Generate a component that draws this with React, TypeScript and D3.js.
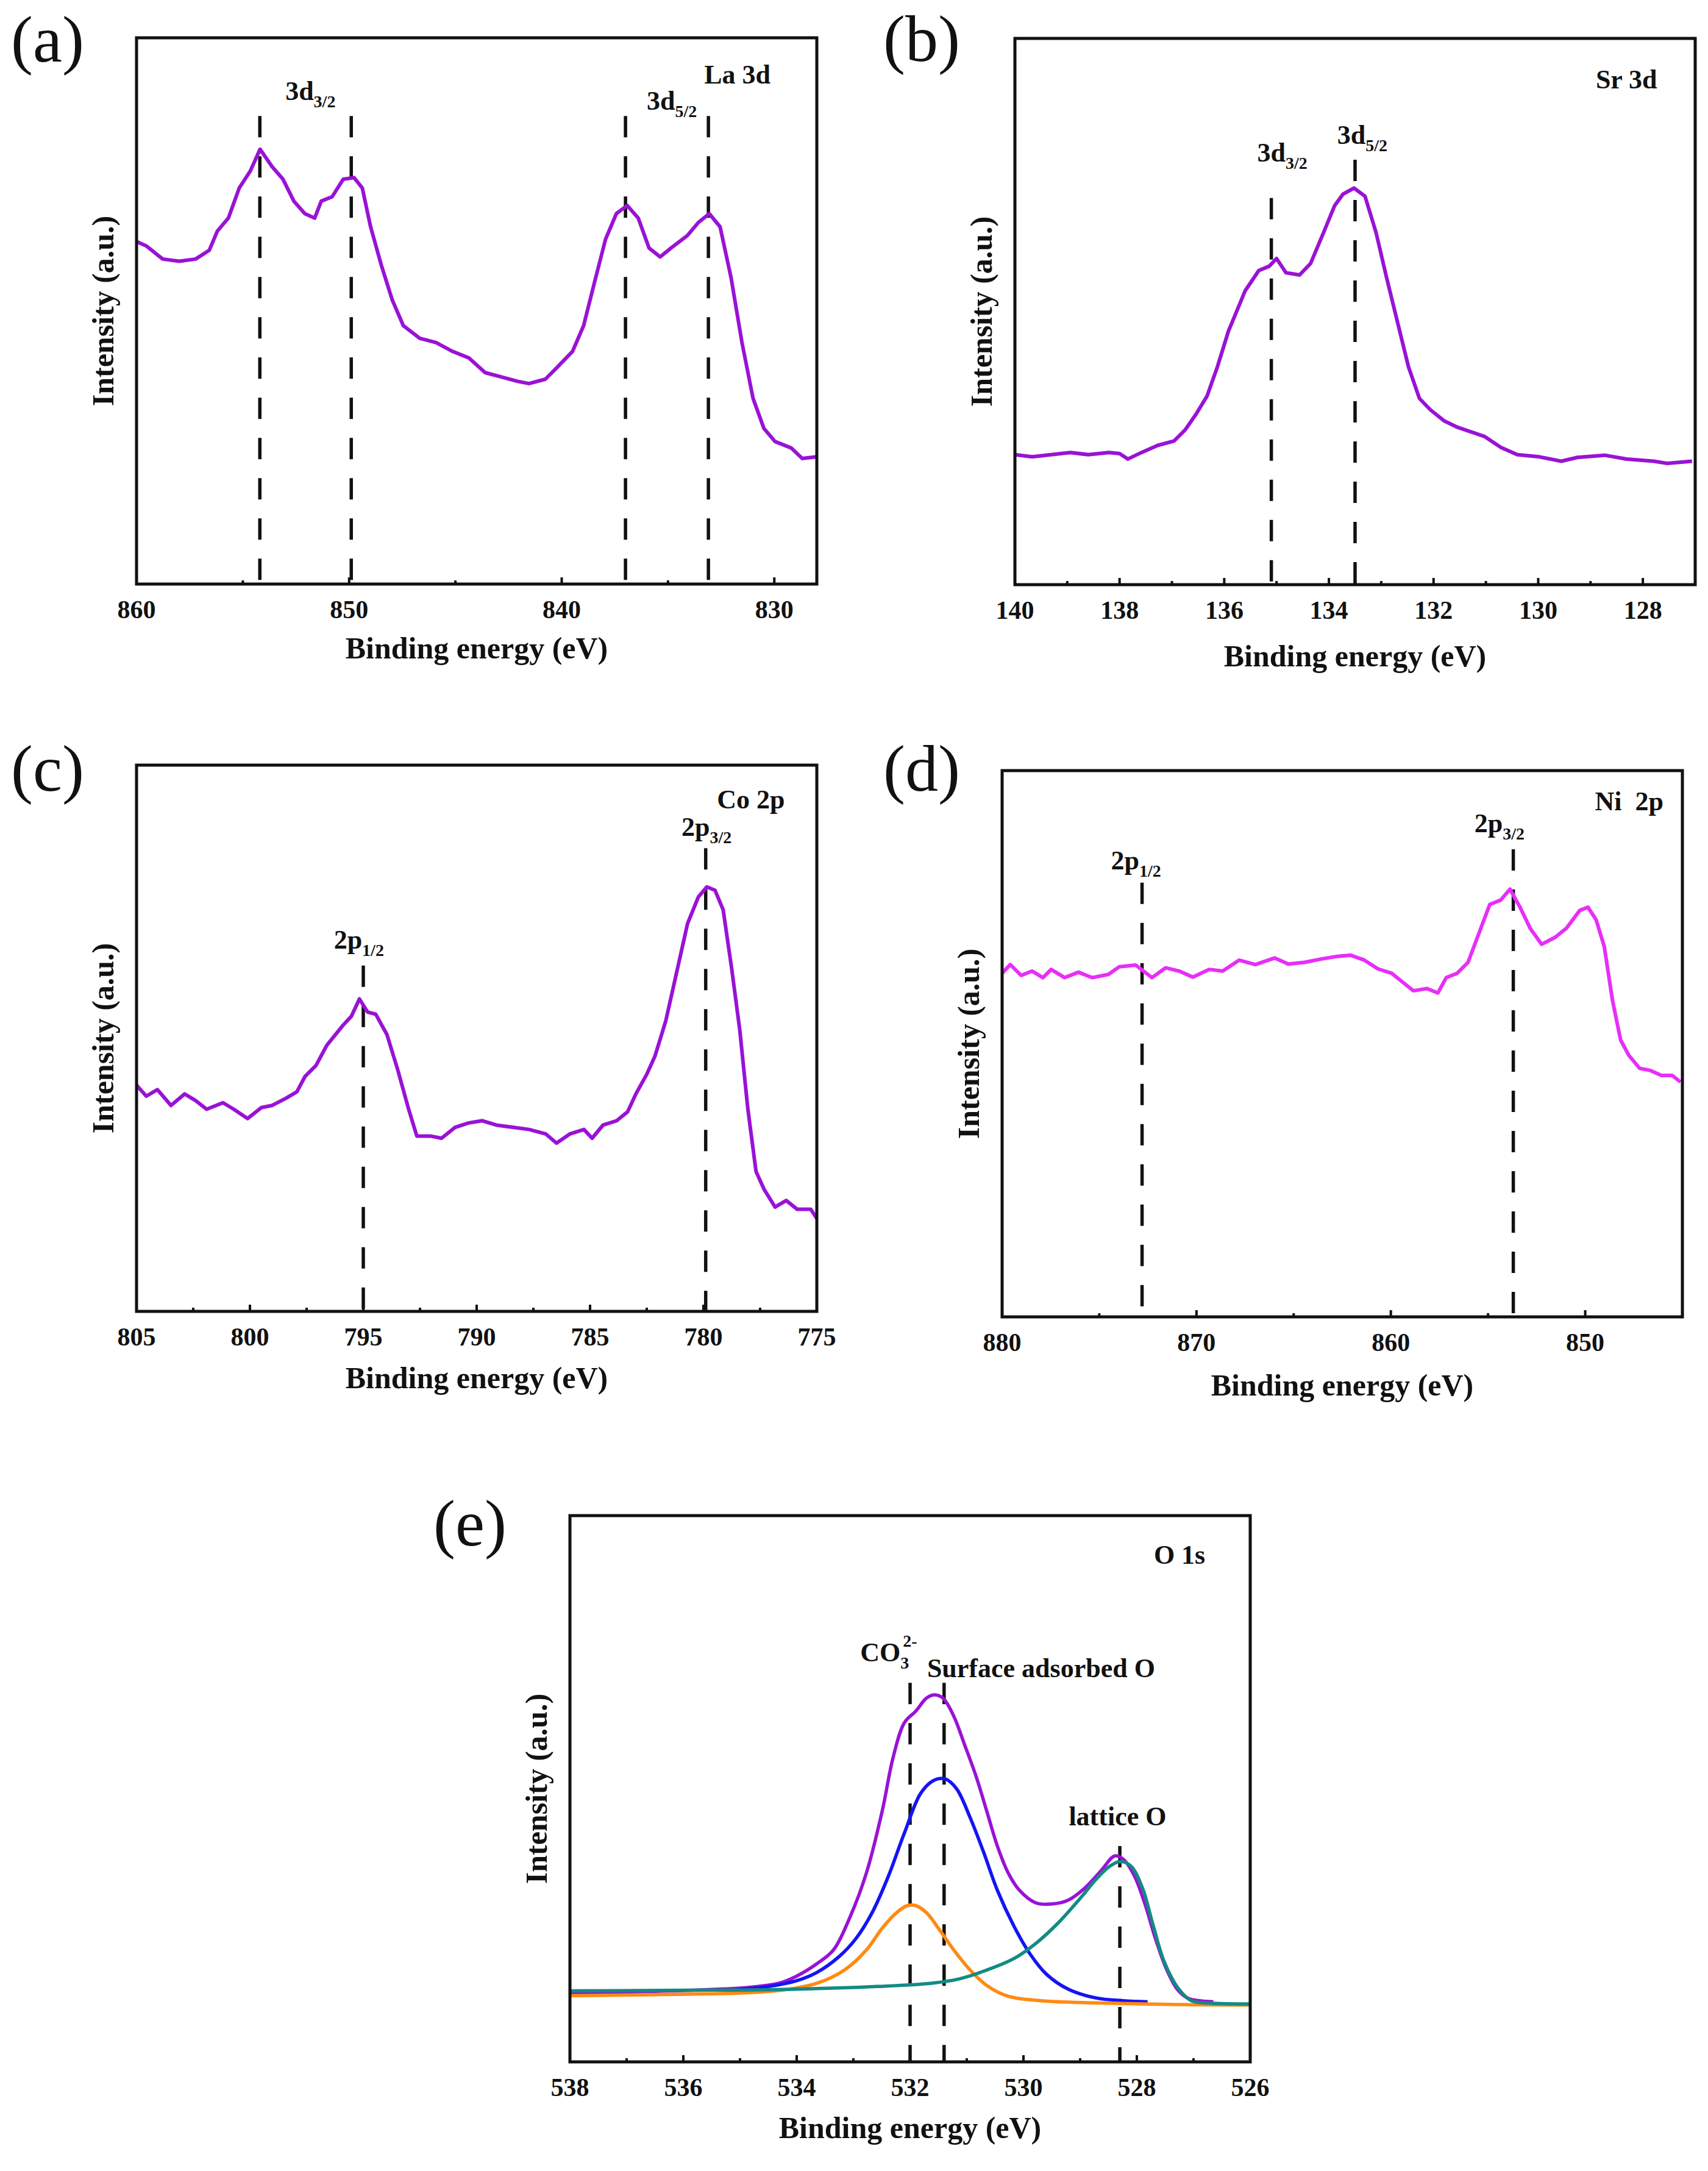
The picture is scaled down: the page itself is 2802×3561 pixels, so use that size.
import { useEffect } from 'react'
import * as d3 from 'd3'

// (a) La 3d
const la3dEnergy = [860, 859.54, 858.77, 857.99, 857.22, 856.58, 856.2, 855.68, 855.17, 854.65, 854.19, 853.62, 853.11, 852.6, 852.08, 851.62, 851.31, 850.8, 850.28, 849.77, 849.38, 848.99, 848.48, 847.97, 847.45, 846.68, 845.91, 845.14, 844.37, 843.6, 842.83, 842.06, 841.54, 840.77, 840.26, 839.49, 838.97, 838.46, 837.94, 837.43, 836.92, 836.4, 835.89, 835.37, 834.86, 834.09, 833.57, 833.06, 832.55, 832.03, 831.52, 831.0, 830.49, 829.97, 829.2, 828.69, 828.0]
const la3dIntensity = [62.7, 61.9, 59.5, 59.1, 59.5, 61.1, 64.6, 67.0, 72.5, 75.6, 79.6, 76.4, 74.1, 70.1, 67.8, 67.0, 70.1, 70.9, 74.1, 74.4, 72.5, 65.4, 58.3, 52.0, 47.3, 45.0, 44.2, 42.6, 41.4, 38.7, 37.9, 37.1, 36.7, 37.5, 39.5, 42.6, 47.3, 55.2, 63.1, 67.8, 69.3, 67.0, 61.5, 59.9, 61.5, 63.8, 66.2, 67.8, 65.4, 56.0, 44.2, 34.0, 28.5, 26.1, 24.9, 23.0, 23.3]
const la3dTicks = [860, 850, 840, 830]
const la3dMinor = [855, 845, 835]
const la3dPeaks = [854.2, 849.9, 837.0, 833.1]
const la3dPeakTops = [85.7, 85.7, 85.7, 85.7]

// (b) Sr 3d
const sr3dEnergy = [140, 139.67, 138.94, 138.6, 138.2, 138.0, 137.84, 137.58, 137.27, 136.96, 136.75, 136.54, 136.33, 136.13, 135.92, 135.6, 135.34, 135.14, 135.0, 134.82, 134.56, 134.35, 134.1, 133.89, 133.73, 133.52, 133.31, 133.1, 132.9, 132.69, 132.48, 132.27, 132.06, 131.8, 131.54, 131.02, 130.71, 130.4, 129.98, 129.56, 129.25, 128.73, 128.31, 127.79, 127.53, 127.06]
const sr3dIntensity = [23.8, 23.4, 24.2, 23.8, 24.2, 24.0, 23.0, 24.2, 25.5, 26.3, 28.3, 31.2, 34.5, 39.9, 46.4, 53.8, 57.5, 58.3, 59.7, 57.1, 56.7, 58.8, 64.5, 69.4, 71.5, 72.6, 71.1, 64.5, 56.3, 48.1, 39.9, 34.1, 32.0, 30.0, 28.8, 27.1, 25.1, 23.8, 23.4, 22.6, 23.3, 23.7, 23.0, 22.6, 22.2, 22.6]
const sr3dTicks = [140, 138, 136, 134, 132, 130, 128]
const sr3dMinor = [139, 137, 135, 133, 131, 129]
const sr3dPeaks = [135.1, 133.5]
const sr3dPeakTops = [70.8, 77.8]

// (c) Co 2p
const co2pEnergy = [805, 804.57, 804.08, 803.48, 802.88, 802.4, 801.91, 801.19, 800.71, 800.1, 799.5, 799.02, 798.42, 797.93, 797.57, 797.09, 796.61, 795.89, 795.53, 795.17, 794.81, 794.45, 793.96, 793.48, 793.0, 792.64, 792.04, 791.55, 790.95, 790.35, 789.75, 789.13, 788.41, 787.69, 786.96, 786.48, 785.88, 785.27, 784.91, 784.43, 783.83, 783.35, 782.98, 782.5, 782.14, 781.66, 781.18, 780.7, 780.22, 779.85, 779.49, 779.13, 778.76, 778.4, 778.04, 777.68, 777.32, 776.84, 776.35, 775.87, 775.27, 775.0]
const co2pIntensity = [41.4, 39.4, 40.6, 37.7, 39.8, 38.6, 37.0, 38.2, 37.0, 35.3, 37.3, 37.7, 39.0, 40.2, 43.0, 45.0, 48.7, 52.4, 54.0, 57.2, 54.8, 54.4, 50.7, 44.2, 37.0, 32.1, 32.1, 31.7, 33.7, 34.5, 34.9, 34.1, 33.7, 33.3, 32.5, 30.8, 32.5, 33.3, 31.7, 34.1, 34.9, 36.5, 39.8, 43.4, 46.7, 53.2, 62.1, 71.0, 75.9, 77.7, 77.1, 73.5, 62.9, 51.6, 37.0, 25.6, 22.3, 19.1, 20.3, 18.7, 18.7, 17.0]
const co2pTicks = [805, 800, 795, 790, 785, 780, 775]
const co2pMinor = [802.5, 797.5, 792.5, 787.5, 782.5, 777.5]
const co2pPeaks = [795.0, 779.9]
const co2pPeakTops = [63.3, 84.8]

// (d) Ni 2p
const ni2pEnergy = [880, 879.58, 879.02, 878.46, 877.9, 877.48, 876.78, 876.07, 875.37, 874.53, 873.97, 873.13, 872.29, 871.59, 870.89, 870.19, 869.35, 868.65, 867.81, 866.97, 865.98, 865.28, 864.44, 863.6, 862.76, 862.06, 861.36, 860.66, 859.96, 859.4, 858.84, 858.14, 857.58, 857.15, 856.59, 856.03, 855.47, 854.91, 854.35, 853.87, 853.37, 852.81, 852.24, 851.54, 850.98, 850.28, 849.86, 849.44, 849.02, 848.6, 848.18, 847.76, 847.2, 846.64, 846.08, 845.52, 845.1]
const ni2pIntensity = [62.9, 64.5, 62.5, 63.3, 62.1, 63.6, 62.1, 63.1, 62.1, 62.7, 64.1, 64.4, 62.1, 63.9, 63.3, 62.2, 63.6, 63.3, 65.3, 64.5, 65.7, 64.6, 64.9, 65.5, 66.0, 66.2, 65.3, 63.7, 62.9, 61.3, 59.7, 60.1, 59.3, 62.1, 62.9, 64.9, 70.2, 75.5, 76.3, 78.3, 75.1, 71.0, 68.2, 69.5, 71.1, 74.4, 75.0, 72.7, 67.8, 58.0, 50.7, 47.9, 45.5, 45.1, 44.2, 44.2, 43.0]
const ni2pTicks = [880, 870, 860, 850]
const ni2pMinor = [875, 865, 855]
const ni2pPeaks = [872.8, 853.7]
const ni2pPeakTops = [79.5, 85.6]

// (e) O 1s: envelope and fitted components
const o1sEnergy = [538, 534.89, 534.31, 534.02, 533.64, 533.35, 533.06, 532.77, 532.49, 532.3, 532.1, 531.9, 531.71, 531.57, 531.42, 531.23, 531.04, 530.84, 530.65, 530.46, 530.27, 530.07, 529.78, 529.5, 529.21, 528.92, 528.63, 528.39, 528.24, 528.05, 527.86, 527.67, 527.47, 527.28, 527.09, 526.89, 526.65]
const o1sIntensity = [12.6, 13.6, 14.4, 15.6, 18.0, 20.5, 26.5, 34.6, 46.0, 55.7, 62.1, 64.2, 66.6, 67.2, 66.6, 63.3, 58.1, 52.4, 46.0, 39.5, 34.6, 31.4, 29.1, 28.9, 29.6, 31.8, 35.0, 37.7, 37.1, 34.2, 29.0, 22.5, 16.8, 13.2, 11.6, 11.2, 11.0]
const surfaceOEnergy = [535.08, 534.5, 534.02, 533.64, 533.25, 532.96, 532.67, 532.39, 532.1, 531.81, 531.57, 531.38, 531.18, 530.94, 530.7, 530.46, 530.17, 529.88, 529.59, 529.21, 528.72, 528.24, 527.81]
const surfaceOIntensity = [13.2, 13.8, 14.8, 16.4, 19.3, 22.5, 27.3, 33.8, 41.9, 49.2, 51.6, 51.8, 50.0, 44.7, 38.3, 31.4, 24.9, 19.7, 16.0, 13.3, 11.7, 11.2, 11.0]
const carbonateEnergy = [538, 535.95, 534.98, 534.21, 533.64, 533.16, 532.77, 532.49, 532.24, 532.05, 531.9, 531.71, 531.47, 531.23, 530.94, 530.65, 530.27, 529.69, 528.72, 527.28, 526]
const carbonateIntensity = [12.1, 12.4, 12.6, 13.2, 14.4, 16.8, 20.5, 24.5, 27.3, 28.6, 28.6, 27.3, 24.0, 20.5, 16.8, 14.0, 12.0, 11.2, 10.8, 10.5, 10.4]
const latticeOEnergy = [538, 535.95, 534.02, 532.58, 531.62, 531.13, 530.65, 530.17, 529.78, 529.4, 529.01, 528.72, 528.48, 528.29, 528.1, 527.9, 527.71, 527.52, 527.28, 527.04, 526.8, 526]
const latticeOIntensity = [13.0, 13.1, 13.3, 13.8, 14.4, 15.2, 16.8, 18.9, 21.7, 25.3, 29.8, 33.4, 35.8, 36.7, 35.8, 31.8, 24.9, 18.4, 13.6, 11.2, 10.8, 10.6]
const o1sTicks = [538, 536, 534, 532, 530, 528, 526]
const o1sMinor = [537, 535, 533, 531, 529, 527]
const o1sPeaks = [532.0, 531.4, 528.3]
const o1sPeakTops = [69.4, 69.4, 39.5]

const FONT = '"Liberation Serif", "Times New Roman", serif'
const PURPLE = '#9912D6'
const W = 1116
const H = 896

type Label = { text: string; sub?: string; sup?: string; e: number; v: number }
type Series = { e: number[]; v: number[]; color: string }
type PanelCfg = {
  letter: string
  letterX: number
  letterY: number
  left: number
  top: number
  domain: [number, number]
  ticks: number[]
  minor: number[]
  series: Series[]
  peaks: number[]
  peakTops: number[]
  labels: Label[]
  titleGap: number
  smooth?: boolean
}

const panels: PanelCfg[] = [
  {
    letter: '(a)', letterX: 18, letterY: 101, left: 224, top: 62, domain: [860, 828],
    ticks: la3dTicks, minor: la3dMinor,
    series: [{ e: la3dEnergy, v: la3dIntensity, color: PURPLE }],
    peaks: la3dPeaks, peakTops: la3dPeakTops,
    labels: [
      { text: '3d', sub: '3/2', e: 853.0, v: 88.6 },
      { text: '3d', sub: '5/2', e: 836.0, v: 86.8 },
      { text: 'La 3d', e: 833.3, v: 91.6 },
    ],
    titleGap: 122,
  },
  {
    letter: '(b)', letterX: 1449, letterY: 100, left: 1665, top: 63, domain: [140, 127],
    ticks: sr3dTicks, minor: sr3dMinor,
    series: [{ e: sr3dEnergy, v: sr3dIntensity, color: PURPLE }],
    peaks: sr3dPeaks, peakTops: sr3dPeakTops,
    labels: [
      { text: '3d', sub: '3/2', e: 135.37, v: 77.4 },
      { text: '3d', sub: '5/2', e: 133.84, v: 80.7 },
      { text: 'Sr 3d', e: 128.9, v: 90.9 },
    ],
    titleGap: 134,
  },
  {
    letter: '(c)', letterX: 18, letterY: 1297, left: 224, top: 1255, domain: [805, 775],
    ticks: co2pTicks, minor: co2pMinor,
    series: [{ e: co2pEnergy, v: co2pIntensity, color: PURPLE }],
    peaks: co2pPeaks, peakTops: co2pPeakTops,
    labels: [
      { text: '2p', sub: '1/2', e: 796.3, v: 66.4 },
      { text: '2p', sub: '3/2', e: 780.97, v: 87.1 },
      { text: 'Co 2p', e: 779.4, v: 92.1 },
    ],
    titleGap: 126,
  },
  {
    letter: '(d)', letterX: 1449, letterY: 1297, left: 1644, top: 1264, domain: [880, 845],
    ticks: ni2pTicks, minor: ni2pMinor,
    series: [{ e: ni2pEnergy, v: ni2pIntensity, color: '#E82EF8' }],
    peaks: ni2pPeaks, peakTops: ni2pPeakTops,
    labels: [
      { text: '2p', sub: '1/2', e: 874.4, v: 81.9 },
      { text: '2p', sub: '3/2', e: 855.7, v: 88.7 },
      { text: 'Ni\u00a0 2p', e: 849.5, v: 92.7 },
    ],
    titleGap: 129,
  },
  {
    letter: '(e)', letterX: 711, letterY: 2535, left: 935, top: 2486, domain: [538, 526],
    ticks: o1sTicks, minor: o1sMinor,
    series: [
      { e: o1sEnergy, v: o1sIntensity, color: PURPLE },
      { e: surfaceOEnergy, v: surfaceOIntensity, color: '#1414F5' },
      { e: carbonateEnergy, v: carbonateIntensity, color: '#FF8A12' },
      { e: latticeOEnergy, v: latticeOIntensity, color: '#138A84' },
    ],
    peaks: o1sPeaks, peakTops: o1sPeakTops,
    labels: [
      { text: 'CO', sub: '3', sup: '2-', e: 532.88, v: 73.3 },
      { text: 'Surface adsorbed O', e: 531.7, v: 70.4 },
      { text: 'lattice O', e: 529.2, v: 43.3 },
      { text: 'O 1s', e: 527.7, v: 91.2 },
    ],
    titleGap: 125,
    smooth: true,
  },
]

function Panel({ cfg }: { cfg: PanelCfg }) {
  const x = d3.scaleLinear().domain(cfg.domain).range([cfg.left, cfg.left + W])
  const y = d3.scaleLinear().domain([0, 100]).range([cfg.top + H, cfg.top])
  const bottom = cfg.top + H
  const line = d3.line<[number, number]>()
    .x(d => x(d[0]))
    .y(d => y(d[1]))
    .curve(cfg.smooth ? d3.curveCatmullRom : d3.curveLinear)

  return (
    <g fontFamily={FONT}>
      <text x={cfg.letterX} y={cfg.letterY} fontSize={108} fill="#111">{cfg.letter}</text>

      {/* dashed peak markers */}
      {cfg.peaks.map((p, i) => (
        <line key={'p' + i} x1={x(p)} x2={x(p)} y1={y(cfg.peakTops[i])} y2={bottom}
          stroke="#111" strokeWidth={5.5} strokeDasharray="35 31" />
      ))}

      {cfg.series.map((s, i) => (
        <path key={'s' + i} d={line(s.e.map((e, j) => [e, s.v[j]] as [number, number])) || ''}
          fill="none" stroke={s.color} strokeWidth={cfg.smooth ? 5.5 : 6} strokeLinejoin="round" />
      ))}

      {/* frame */}
      <rect x={cfg.left} y={cfg.top} width={W} height={H} fill="none" stroke="#111" strokeWidth={5} />

      {cfg.ticks.map(t => (
        <g key={'t' + t}>
          <line x1={x(t)} x2={x(t)} y1={bottom} y2={bottom - 11} stroke="#111" strokeWidth={4} />
          <text x={x(t)} y={bottom + 56} textAnchor="middle" fontSize={42} fontWeight="bold" fill="#111">{t}</text>
        </g>
      ))}
      {cfg.minor.map(t => (
        <line key={'m' + t} x1={x(t)} x2={x(t)} y1={bottom} y2={bottom - 6} stroke="#111" strokeWidth={4} />
      ))}

      <text x={cfg.left + W / 2} y={bottom + cfg.titleGap} textAnchor="middle" fontSize={50} fontWeight="bold" fill="#111">
        Binding energy (eV)
      </text>
      <text transform={`translate(${cfg.left - 38},${cfg.top + H / 2}) rotate(-90)`} textAnchor="middle"
        fontSize={50} fontWeight="bold" fill="#111">
        Intensity (a.u.)
      </text>

      {cfg.labels.map((l, i) => (
        <text key={'l' + i} x={x(l.e)} y={y(l.v)} fontSize={44} fontWeight="bold" fill="#111">
          {l.text}
          {l.sub && <tspan dy={12} fontSize={28}>{l.sub}</tspan>}
          {l.sup && <tspan dx={-10} dy={-36} fontSize={28}>{l.sup}</tspan>}
        </text>
      ))}
    </g>
  )
}

export default function App() {
  useEffect(() => {
    document.body.style.margin = '0'
  }, [])

  return (
    <svg width={2802} height={3561} viewBox="0 0 2802 3561" style={{ display: 'block', background: '#fff' }}>
      <rect width={2802} height={3561} fill="#fff" />
      {panels.map(p => <Panel key={p.letter} cfg={p} />)}
    </svg>
  )
}
